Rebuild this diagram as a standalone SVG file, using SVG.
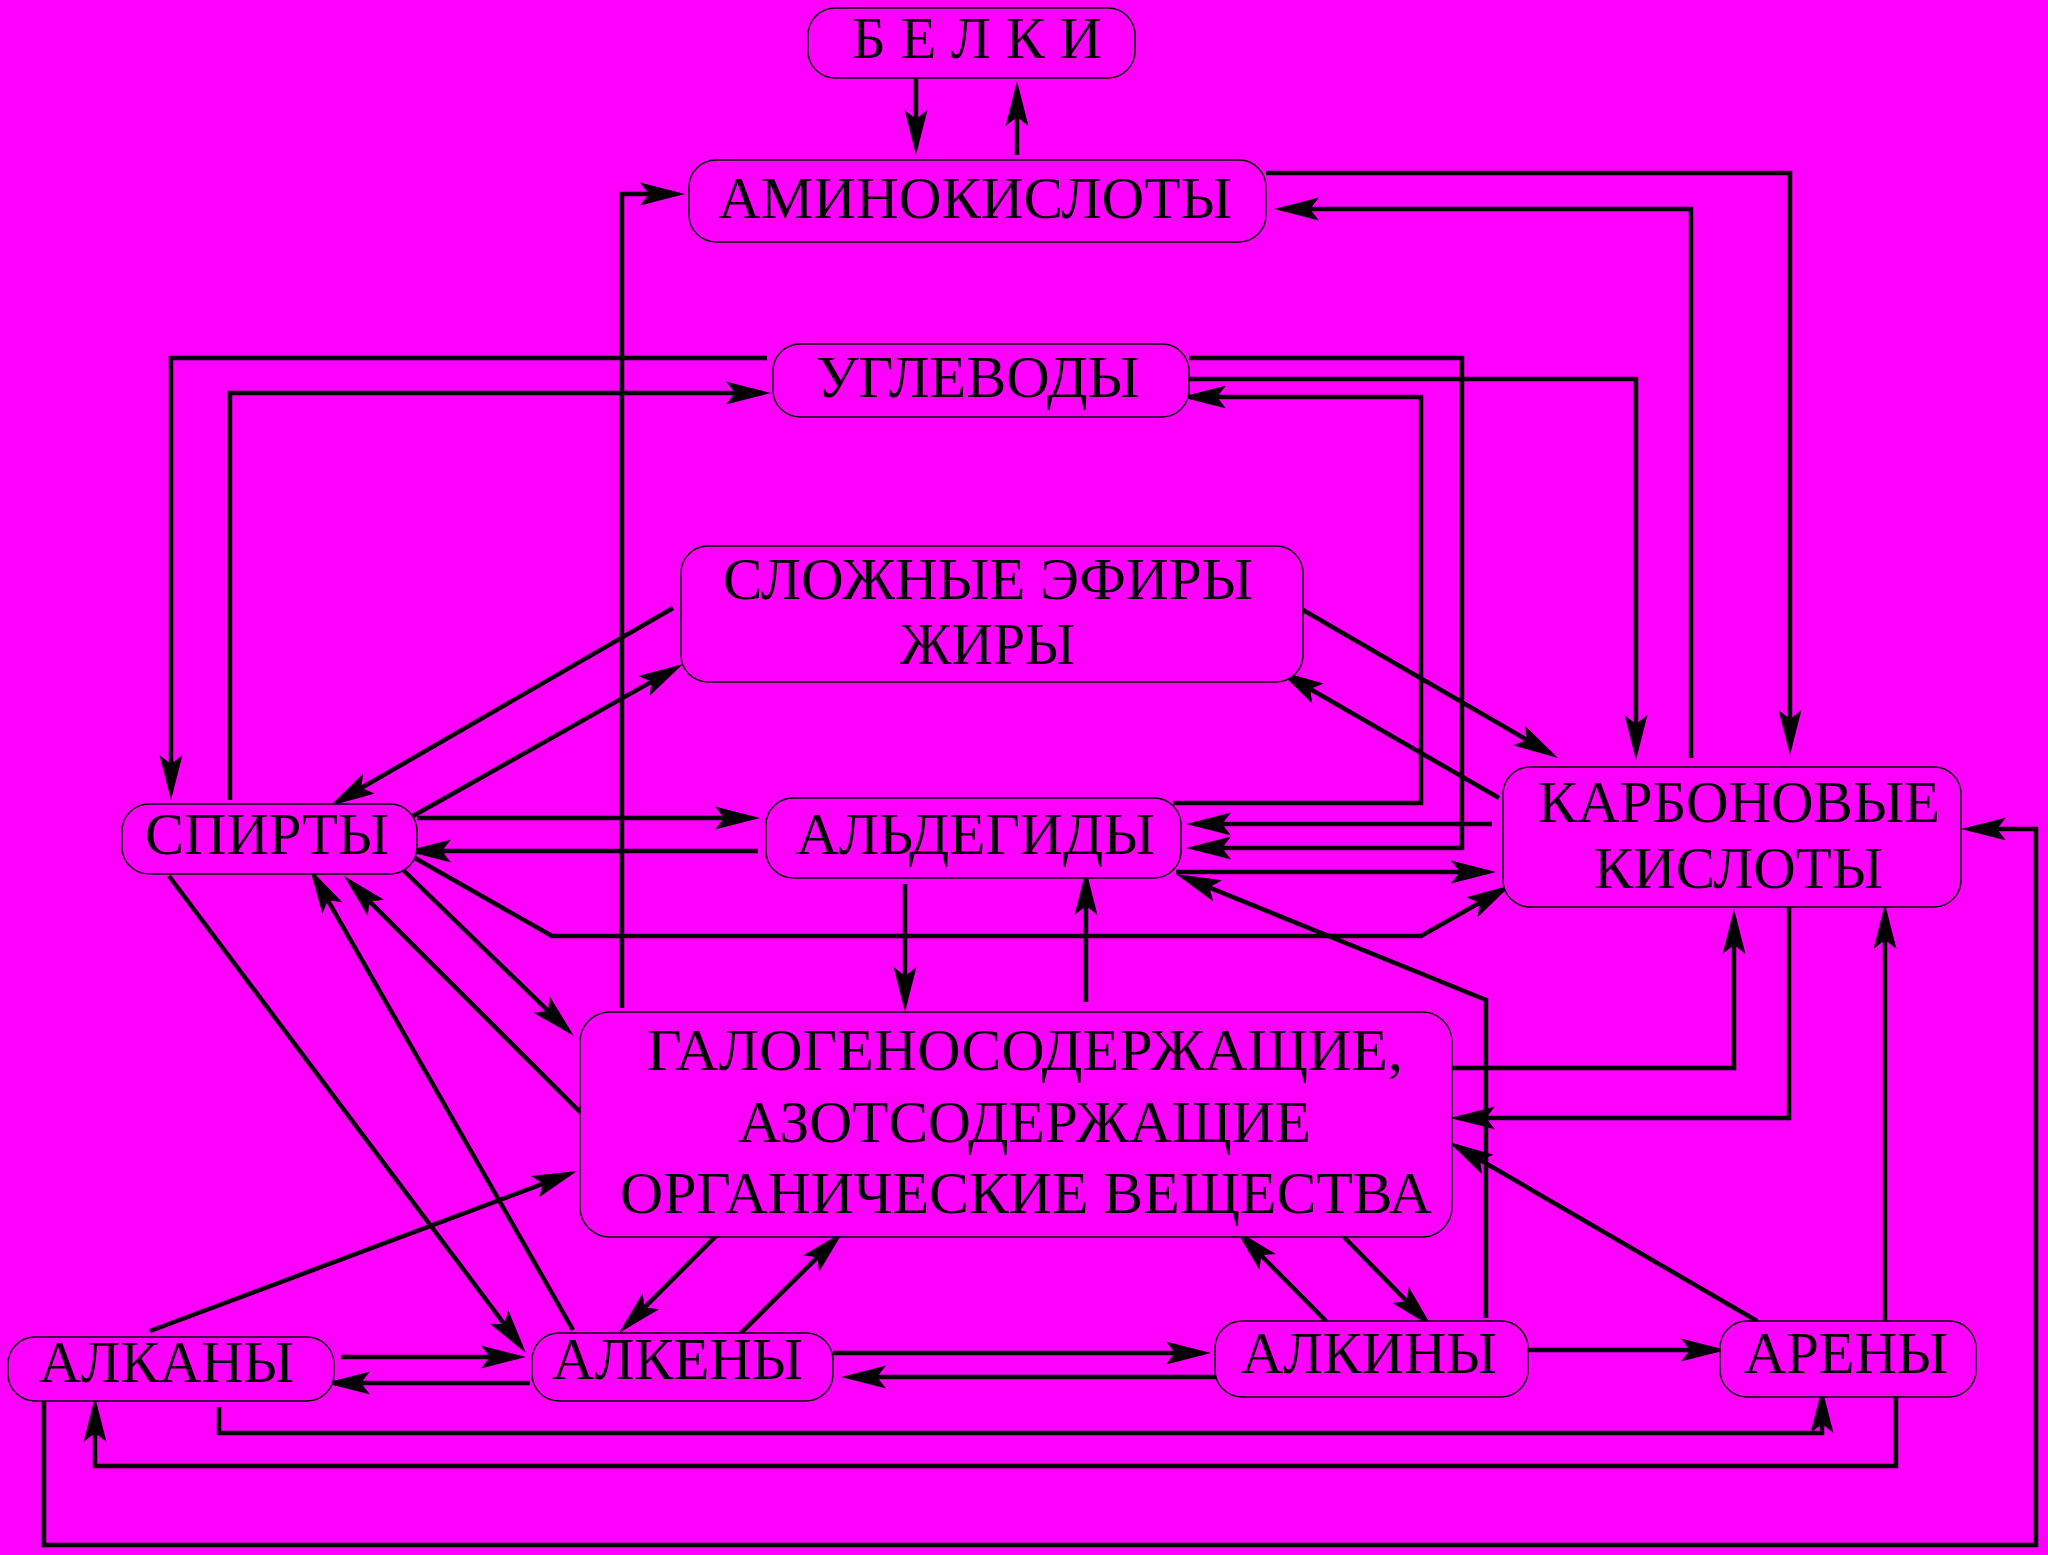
<svg xmlns="http://www.w3.org/2000/svg" width="2048" height="1555" viewBox="0 0 2048 1555">
<style>
.bg{fill:#FF00FF}
.node rect{fill:#FF00FF;stroke:#000;stroke-width:1.5}
.node text{font-family:"Liberation Serif","Times New Roman",serif;font-size:59px;fill:#000}
#connectors path{fill:none;stroke:#000;stroke-width:4.5;stroke-linejoin:miter}
.a{marker-end:url(#ah)}
</style>
<defs>
<marker id="ah" markerUnits="userSpaceOnUse" viewBox="-47 -13 58 26" markerWidth="58" markerHeight="26" refX="-9" refY="0" orient="auto">
<path d="M0,0 L-45,-11.5 L-36,0 L-45,11.5 Z" fill="#000"/>
</marker>
</defs>
<rect class="bg" x="0" y="0" width="2048" height="1555"/>
<g id="connectors">
<path class="a" d="M916,76 V146"/>
<path class="a" d="M1017,155 V90"/>
<path class="a" d="M622,1008 V194 H676"/>
<path class="a" d="M1266,173 H1790 V746"/>
<path class="a" d="M1691,758 V209 H1283"/>
<path class="a" d="M767,358 H171 V791"/>
<path class="a" d="M230,800 V393 H762"/>
<path class="a" d="M1189,379 H1636 V751"/>
<path class="a" d="M1189,358 H1462 V848 H1195"/>
<path class="a" d="M1173,803 H1421 V397 H1190"/>
<path class="a" d="M1492,824 H1195"/>
<path class="a" d="M1176,872 H1487"/>
<path class="a" d="M1486,1318 V1000 L1184.3,877.4"/>
<path class="a" d="M1499,798 L1286.8,675.5"/>
<path class="a" d="M1303,610 L1550.2,753.5"/>
<path class="a" d="M673,608 L337.8,801.5"/>
<path class="a" d="M413,816 L675.2,668.4"/>
<path class="a" d="M417,818 H751"/>
<path class="a" d="M758,851 H415"/>
<path class="a" d="M406,853 L552,936 H1421 L1503.2,889.4"/>
<path class="a" d="M905,884 V1003"/>
<path class="a" d="M1086,1002 V879"/>
<path class="a" d="M400,867 L567.5,1029.7"/>
<path class="a" d="M580,1112 L350.4,882.4"/>
<path class="a" d="M169,876 L520.6,1345.8"/>
<path class="a" d="M573,1330 L314.5,876.8"/>
<path class="a" d="M150,1331 L568.6,1174.2"/>
<path class="a" d="M720,1232 L625.4,1326.6"/>
<path class="a" d="M741,1333 L836.6,1238.3"/>
<path class="a" d="M341,1357 H517"/>
<path class="a" d="M530,1383 H334"/>
<path class="a" d="M833,1353 H1202"/>
<path class="a" d="M1217,1377 H850"/>
<path class="a" d="M1342,1235 L1425.7,1320.6"/>
<path class="a" d="M1326,1321 L1242.3,1236.4"/>
<path class="a" d="M1527,1350 H1717"/>
<path class="a" d="M1757,1321 L1456.8,1146.5"/>
<path class="a" d="M1789,907 V1118 H1459"/>
<path class="a" d="M1449,1068 H1734 V918"/>
<path class="a" d="M1885,1321 V913"/>
<path class="a" d="M44,1398 V1545 H2036 V829 H1970"/>
<path class="a" d="M219,1407 V1433 H1822 V1397"/>
<path class="a" d="M1896,1395 V1466 H95 V1406"/>
</g>
<g id="belki" class="node"><rect x="808" y="8" width="327" height="70" rx="27"/><text x="852" y="58" textLength="250" lengthAdjust="spacingAndGlyphs">Б Е Л К И</text></g>
<g id="aminokisloty" class="node"><rect x="689" y="160" width="577" height="82" rx="27"/><text x="718" y="218" textLength="514" lengthAdjust="spacingAndGlyphs">АМИНОКИСЛОТЫ</text></g>
<g id="uglevody" class="node"><rect x="773" y="344" width="416" height="73" rx="27"/><text x="816" y="397" textLength="324" lengthAdjust="spacingAndGlyphs">УГЛЕВОДЫ</text></g>
<g id="efiry" class="node"><rect x="681" y="546" width="622" height="136" rx="27"/><text x="723" y="599" textLength="530" lengthAdjust="spacingAndGlyphs">СЛОЖНЫЕ ЭФИРЫ</text><text x="900" y="664" textLength="175" lengthAdjust="spacingAndGlyphs">ЖИРЫ</text></g>
<g id="spirty" class="node"><rect x="122" y="804" width="295" height="70" rx="27"/><text x="145" y="854" textLength="244" lengthAdjust="spacingAndGlyphs">СПИРТЫ</text></g>
<g id="aldegidy" class="node"><rect x="766" y="798" width="415" height="80" rx="27"/><text x="796" y="854" textLength="359" lengthAdjust="spacingAndGlyphs">АЛЬДЕГИДЫ</text></g>
<g id="karbonovye" class="node"><rect x="1503" y="767" width="458" height="140" rx="27"/><text x="1538" y="822" textLength="402" lengthAdjust="spacingAndGlyphs">КАРБОНОВЫЕ</text><text x="1594" y="888" textLength="289" lengthAdjust="spacingAndGlyphs">КИСЛОТЫ</text></g>
<g id="galogeno" class="node"><rect x="580" y="1012" width="872" height="225" rx="30"/><text x="647" y="1070" textLength="756" lengthAdjust="spacingAndGlyphs">ГАЛОГЕНОСОДЕРЖАЩИЕ,</text><text x="738" y="1142" textLength="573" lengthAdjust="spacingAndGlyphs">АЗОТСОДЕРЖАЩИЕ</text><text x="620" y="1213" textLength="812" lengthAdjust="spacingAndGlyphs">ОРГАНИЧЕСКИЕ ВЕЩЕСТВА</text></g>
<g id="alkany" class="node"><rect x="8" y="1337" width="326" height="64" rx="27"/><text x="39" y="1382" textLength="255" lengthAdjust="spacingAndGlyphs">АЛКАНЫ</text></g>
<g id="alkeny" class="node"><rect x="532" y="1333" width="301" height="68" rx="27"/><text x="552" y="1379" textLength="251" lengthAdjust="spacingAndGlyphs">АЛКЕНЫ</text></g>
<g id="alkiny" class="node"><rect x="1215" y="1321" width="313" height="76" rx="27"/><text x="1241" y="1373" textLength="256" lengthAdjust="spacingAndGlyphs">АЛКИНЫ</text></g>
<g id="areny" class="node"><rect x="1720" y="1321" width="256" height="76" rx="27"/><text x="1744" y="1373" textLength="204" lengthAdjust="spacingAndGlyphs">АРЕНЫ</text></g>
</svg>
